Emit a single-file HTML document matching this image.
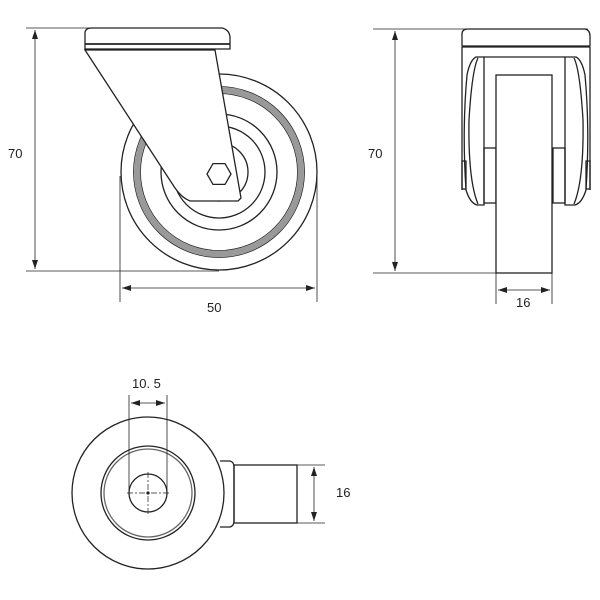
<!DOCTYPE html>
<html><head><style>body{margin:0;background:#fff}svg{display:block}text{font-family:"Liberation Sans",sans-serif;font-size:13px;fill:#222}</style></head>
<body>
<svg width="600" height="600" viewBox="0 0 600 600" xmlns="http://www.w3.org/2000/svg">
<defs>
<marker id="a" markerWidth="10" markerHeight="8" refX="9" refY="4" orient="auto-start-reverse" markerUnits="userSpaceOnUse"><path d="M0,1 L9,4 L0,7 z" fill="#222"/></marker>
</defs>
<g fill="none" stroke="#222" stroke-width="1.3">
<!-- view 1 -->
<line x1="26" y1="28" x2="223" y2="28" stroke-width="0.8"/>
<line x1="26" y1="271" x2="219" y2="271" stroke-width="0.8"/>
<line x1="35" y1="30" x2="35" y2="269" marker-start="url(#a)" marker-end="url(#a)" stroke-width="0.8"/>
<circle cx="219" cy="172" r="98"/>
<circle cx="219" cy="172" r="82" stroke="#999" stroke-width="6"/>
<circle cx="219" cy="172" r="85.5" stroke-width="0.8"/>
<circle cx="219" cy="172" r="78.5" stroke-width="0.8"/>
<circle cx="219" cy="172" r="58"/>
<circle cx="219" cy="172" r="46"/>
<circle cx="219" cy="172" r="29"/>
<path d="M85,50 L215,50 L241,198 L238,201 L190,201 Q182,198 175,188 Z" fill="#fff"/>
<path d="M85,33 Q85,28 92,28 L222,28 Q230,30 230,38 L230,49 L85,49 Z" fill="#fff"/>
<line x1="85" y1="44" x2="230" y2="44" stroke-width="1.8"/>
<polygon points="231,174 225,184.4 213,184.4 207,174 213,163.6 225,163.6" fill="#fff"/>
<line x1="120" y1="176" x2="120" y2="302" stroke-width="0.8"/>
<line x1="317" y1="176" x2="317" y2="302" stroke-width="0.8"/>
<line x1="122" y1="288" x2="315" y2="288" marker-start="url(#a)" marker-end="url(#a)" stroke-width="0.8"/>
<!-- view 2 -->
<line x1="373" y1="29" x2="588" y2="29" stroke-width="0.8"/>
<line x1="373" y1="273" x2="496" y2="273" stroke-width="0.8"/>
<line x1="395" y1="31" x2="395" y2="271" marker-start="url(#a)" marker-end="url(#a)" stroke-width="0.8"/>
<path d="M462,34 Q462,29 468,29 L585,29 Q590,30 590,36 L590,46 L462,46 Z" fill="#fff"/>
<line x1="462" y1="47" x2="590" y2="47"/>
<line x1="462" y1="47" x2="462" y2="190"/><line x1="590" y1="47" x2="590" y2="190"/>
<path d="M484,57 L476,57 Q470,60 467,75 Q462,130 466,190 Q470,203 477,205 L484,205 Z" fill="#fff"/>
<path d="M478,58 Q472,70 469,120 Q468,180 478,204"/>
<path d="M565,57 L576,57 Q582,60 585,75 Q590,130 586,190 Q582,203 575,205 L565,205 Z" fill="#fff"/>
<path d="M574,58 Q580,70 583,120 Q584,180 574,204"/>
<line x1="484" y1="57" x2="565" y2="57"/>
<rect x="462" y="161" width="4" height="28"/><rect x="586" y="161" width="4" height="28"/>
<rect x="484" y="148" width="12" height="55"/><rect x="553" y="148" width="12" height="55"/>
<rect x="496" y="75" width="56" height="198" fill="#fff"/>
<line x1="496" y1="273" x2="496" y2="304" stroke-width="0.8"/>
<line x1="552" y1="273" x2="552" y2="304" stroke-width="0.8"/>
<line x1="498" y1="290" x2="550" y2="290" marker-start="url(#a)" marker-end="url(#a)" stroke-width="0.8"/>
<!-- view 3 -->
<path d="M220,461 L230,461 Q234,462 234,467 L234,521 Q234,526 230,527 L220,527" fill="#fff"/>
<rect x="234" y="465" width="63" height="58"/>
<circle cx="148" cy="493" r="76" fill="#fff"/>
<circle cx="148" cy="493" r="47"/>
<circle cx="148" cy="493" r="44" stroke="#666"/>
<circle cx="148" cy="493" r="19"/>
<g stroke-width="0.7" stroke-dasharray="6,2,2,2"><line x1="127" y1="493" x2="169" y2="493"/><line x1="148" y1="472" x2="148" y2="514"/></g>
<circle cx="148" cy="493" r="1" fill="#222"/>
<line x1="129" y1="395" x2="129" y2="493" stroke-width="0.8"/>
<line x1="167" y1="395" x2="167" y2="493" stroke-width="0.8"/>
<line x1="131" y1="403" x2="165" y2="403" marker-start="url(#a)" marker-end="url(#a)" stroke-width="0.8"/>
<line x1="297" y1="465" x2="325" y2="465" stroke-width="0.8"/>
<line x1="297" y1="523" x2="325" y2="523" stroke-width="0.8"/>
<line x1="314" y1="467" x2="314" y2="521" marker-start="url(#a)" marker-end="url(#a)" stroke-width="0.8"/>
</g>
<text x="8" y="158">70</text>
<text x="207" y="312">50</text>
<text x="368" y="158">70</text>
<text x="516" y="307">16</text>
<text x="132" y="388">10. 5</text>
<text x="336" y="497">16</text>
</svg>
</body></html>
